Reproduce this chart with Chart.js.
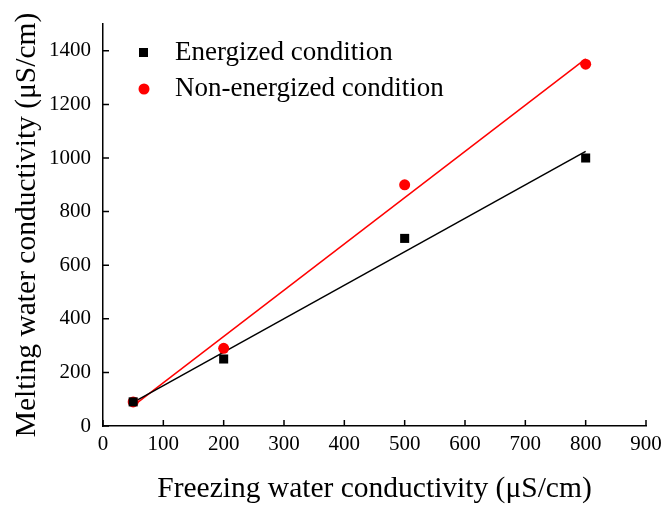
<!DOCTYPE html>
<html lang="en">
<head>
    <meta charset="UTF-8">
    <title>Melting vs freezing water conductivity</title>
    <script src="https://cdn.jsdelivr.net/npm/chart.js"></script>
    <style>
        body { margin: 0; background: #fff; }
        #wrap { width: 667px; height: 507px; }
    </style>
</head>
<body>
    <div id="wrap"><canvas id="condChart" width="667" height="507"></canvas></div>

    <script>
        // values
        const freezing = [50, 200, 500, 800]
        const energized = [90, 250, 700, 1000]
        const nonEnergized = [90, 290, 900, 1350]

        // fitted lines (end points)
        const fitX = [50, 800]
        const energizedFit = [88, 1025]
        const nonEnergizedFit = [75, 1370]

        const seriesNames = ['Energized condition', 'Non-energized condition']

        const serif = '"Liberation Serif", "Times New Roman", serif'

        const toPoints = (xs, ys) => xs.map((x, i) => ({ x: x, y: ys[i] }))

        // inward tick marks, like the original plot
        const innerTicks = {
            id: 'innerTicks',
            afterDraw(chart) {
                const ctx = chart.ctx
                const xs = chart.scales.x, ys = chart.scales.y
                ctx.save()
                ctx.strokeStyle = '#000'
                ctx.lineWidth = 1.5
                ctx.beginPath()
                xs.ticks.forEach(t => {
                    const px = xs.getPixelForValue(t.value)
                    ctx.moveTo(px, ys.bottom)
                    ctx.lineTo(px, ys.bottom - 6)
                })
                ys.ticks.forEach(t => {
                    if (t.value > 1400) return
                    const py = ys.getPixelForValue(t.value)
                    ctx.moveTo(xs.left, py)
                    ctx.lineTo(xs.left + 6, py)
                })
                ctx.stroke()
                ctx.restore()
            }
        }

        // legend in the top-left of the plot
        const innerLegend = {
            id: 'innerLegend',
            afterDraw(chart) {
                const ctx = chart.ctx
                ctx.save()
                ctx.font = '27px ' + serif
                ctx.textBaseline = 'middle'
                ctx.fillStyle = '#000'
                ctx.fillRect(139, 48, 9, 9)
                ctx.fillText(seriesNames[0], 175, 53)
                ctx.fillStyle = '#ff0000'
                ctx.beginPath()
                ctx.arc(144, 89, 5.5, 0, Math.PI * 2)
                ctx.fill()
                ctx.fillStyle = '#000'
                ctx.fillText(seriesNames[1], 175, 89)
                ctx.restore()
            }
        }

        const config = {
            type: 'scatter',
            data: {
                datasets: [{
                    label: seriesNames[0],
                    data: toPoints(freezing, energized),
                    pointStyle: 'rect',
                    pointRadius: 6.4,
                    backgroundColor: '#000',
                    borderColor: '#000',
                    borderWidth: 0,
                }, {
                    label: seriesNames[1],
                    data: toPoints(freezing, nonEnergized),
                    pointStyle: 'circle',
                    pointRadius: 5.5,
                    backgroundColor: '#ff0000',
                    borderColor: '#ff0000',
                    borderWidth: 0,
                }, {
                    label: 'fit1',
                    data: toPoints(fitX, energizedFit),
                    showLine: true,
                    pointRadius: 0,
                    borderColor: '#000',
                    borderWidth: 1.5,
                }, {
                    label: 'fit2',
                    data: toPoints(fitX, nonEnergizedFit),
                    showLine: true,
                    pointRadius: 0,
                    borderColor: '#ff0000',
                    borderWidth: 1.5,
                }]
            },
            options: {
                responsive: false,
                animation: false,
                layout: { padding: { top: 24, right: 21, left: 0, bottom: 0 } },
                plugins: {
                    legend: { display: false },
                    tooltip: { enabled: false }
                },
                scales: {
                    x: {
                        type: 'linear',
                        min: 0,
                        max: 900,
                        ticks: {
                            stepSize: 100,
                            color: '#000',
                            padding: -2,
                            font: { family: serif, size: 21 }
                        },
                        grid: { display: false },
                        border: { display: true, color: '#000', width: 1.5 },
                        title: {
                            display: true,
                            text: 'Freezing water conductivity (μS/cm)',
                            color: '#000',
                            padding: { top: 4, bottom: 0 },
                            font: { family: serif, size: 29.5 }
                        },
                        afterFit: s => { s.height = 81 }
                    },
                    y: {
                        type: 'linear',
                        min: 0,
                        max: 1500,
                        ticks: {
                            stepSize: 200,
                            color: '#000',
                            padding: 4,
                            callback: v => v > 1400 ? '' : v,
                            font: { family: serif, size: 21 }
                        },
                        grid: { display: false },
                        border: { display: true, color: '#000', width: 1.5 },
                        title: {
                            display: true,
                            text: 'Melting water conductivity (μS/cm)',
                            color: '#000',
                            padding: { top: 10, bottom: 2 },
                            font: { family: serif, size: 29.5 }
                        },
                        afterFit: s => { s.width = 103 }
                    }
                }
            },
            plugins: [innerTicks, innerLegend]
        }

        const ctx = document.getElementById('condChart').getContext('2d')
        new Chart(ctx, config)
    </script>
</body>
</html>
